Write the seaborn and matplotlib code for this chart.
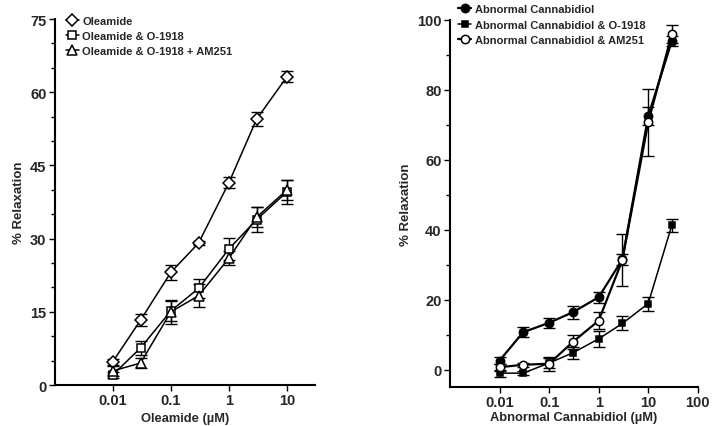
import numpy as np
import pandas as pd
import matplotlib
matplotlib.use("Agg")
import matplotlib.pyplot as plt
import seaborn as sns

sns.set_theme(style="ticks")
plt.rcParams['font.family'] = ['Liberation Sans', 'DejaVu Sans']
plt.rcParams['font.weight'] = 'bold'

# Left panel data
conc_left = [0.01, 0.03, 0.1, 0.3, 1, 3, 10]
ole = [4.8, 13.3, 23.1, 29.1, 41.5, 54.5, 63.2]
ole_err = [0.6, 1.2, 1.5, 0.5, 1.2, 1.5, 1.2]
ole_o1918 = [2.1, 7.6, 15.2, 19.8, 27.9, 33.9, 39.6]
ole_o1918_err = [0.6, 1.5, 2.0, 2.0, 2.3, 2.5, 2.5]
ole_am = [2.9, 4.5, 15.0, 18.3, 26.0, 34.4, 40.0]
ole_am_err = [1.0, 1.0, 2.5, 2.3, 1.5, 2.0, 2.0]

# Right panel data
conc_right = [0.01, 0.03, 0.1, 0.3, 1, 3, 10, 30]
abn = [2.6, 10.7, 13.4, 16.4, 20.7, 31.5, 72.5, 94.0]
abn_err = [1.0, 1.5, 1.5, 1.8, 1.5, 1.5, 2.5, 1.5]
abn_o1918 = [-1.0, -1.0, 1.9, 4.8, 8.8, 13.2, 18.9, 41.3]
abn_o1918_err = [1.0, 0.5, 1.5, 1.8, 2.3, 2.0, 2.0, 1.8]
abn_am = [0.7, 1.4, 1.7, 7.9, 14.0, 31.3, 70.7, 96.0]
abn_am_err = [1.0, 0.5, 2.0, 2.0, 2.5, 7.5, 9.5, 2.5]

left_series = [
    ("Oleamide", ole, ole_err, "D", "white", 6.0, 1.1),
    ("Oleamide & O-1918", ole_o1918, ole_o1918_err, "s", "white", 6.0, 1.1),
    ("Oleamide & O-1918 + AM251", ole_am, ole_am_err, "^", "white", 7.0, 1.1),
]
right_series = [
    ("Abnormal Cannabidiol", abn, abn_err, "o", "black", 6.0, 1.6),
    ("Abnormal Cannabidiol & O-1918", abn_o1918, abn_o1918_err, "s", "black", 5.0, 1.1),
    ("Abnormal Cannabidiol & AM251", abn_am, abn_am_err, "o", "white", 6.0, 1.6),
]

fig = plt.figure(figsize=(7.12, 4.27), dpi=100)
ax1 = fig.add_axes([0.077, 0.096, 0.365, 0.857])
ax2 = fig.add_axes([0.632, 0.091, 0.348, 0.860])

def draw(ax, conc, series):
    for name, vals, errs, mk, fc, ms, lw in series:
        df = pd.DataFrame({"x": conc, "y": vals})
        ax.errorbar(conc, vals, yerr=errs, fmt="none", ecolor="black",
                    elinewidth=1, capsize=4, capthick=1, zorder=2)
        sns.lineplot(data=df, x="x", y="y", ax=ax, color="black", lw=lw,
                     marker=mk, markersize=ms, markerfacecolor=fc,
                     markeredgecolor="black", markeredgewidth=1.1,
                     label=name, zorder=3)

draw(ax1, conc_left, left_series)
draw(ax2, conc_right, right_series)

for ax in (ax1, ax2):
    ax.set_xscale("log")
    sns.despine(ax=ax)
    ax.tick_params(axis="both", which="major", direction="out", length=4,
                   width=1, labelsize=10.5, color="black", pad=2)
    ax.tick_params(axis="both", which="minor", direction="out", length=3,
                   width=1, color="black")
    ax.tick_params(axis="x", which="minor", length=0)
    for s in ("left", "bottom"):
        ax.spines[s].set_linewidth(1.5)
        ax.spines[s].set_color("black")
    for lbl in ax.get_xticklabels() + ax.get_yticklabels():
        lbl.set_fontweight("bold")
    ax.set_ylabel("% Relaxation", fontsize=9.5, fontweight="bold", labelpad=4)

ax1.set_xlim(0.001, 30)
ax1.set_ylim(0, 75)
ax1.set_yticks([0, 15, 30, 45, 60, 75])
ax1.set_yticks(np.arange(0, 76, 5), minor=True)
ax1.set_xticks([0.01, 0.1, 1, 10])
ax1.set_xticklabels(["0.01", "0.1", "1", "10"], fontweight="bold")
ax1.set_xlabel("Oleamide (\u00b5M)", fontsize=9.3, fontweight="bold", labelpad=3)

ax2.set_xlim(0.001, 100)
ax2.set_ylim(-5, 100)
ax2.set_yticks([0, 20, 40, 60, 80, 100])
ax2.set_yticks(np.arange(0, 101, 10), minor=True)
ax2.set_xticks([0.01, 0.1, 1, 10, 100])
ax2.set_xticklabels(["0.01", "0.1", "1", "10", "100"], fontweight="bold")
ax2.set_xlabel("Abnormal Cannabidiol (\u00b5M)", fontsize=9.3, fontweight="bold", labelpad=1)

ax1.legend(loc="upper left", bbox_to_anchor=(0.025, 1.02), frameon=False,
           handlelength=1.2, handletextpad=0.3, borderaxespad=0,
           labelspacing=0.45, prop={"weight": "bold", "size": 8.0})
ax2.legend(loc="upper left", bbox_to_anchor=(0.015, 1.055), frameon=False,
           handlelength=1.2, handletextpad=0.3, borderaxespad=0,
           labelspacing=0.5, prop={"weight": "bold", "size": 8.0})

fig.savefig("out.png", dpi=100)
